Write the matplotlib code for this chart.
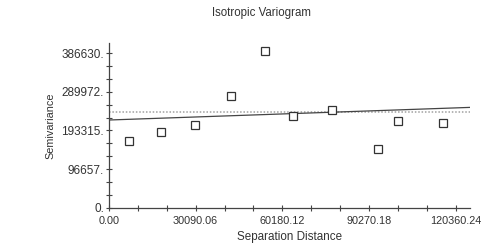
import numpy as np
import matplotlib.pyplot as plt
from matplotlib.ticker import FixedLocator

plt.rcParams['font.family'] = ['Liberation Sans', 'DejaVu Sans']

# experimental variogram points
lag_dist = [7050, 18050, 29850, 42340, 54140, 63860, 77500, 93250, 100200, 116000]
semivar = [167870, 189570, 207000, 279370, 391000, 229480, 244450, 147910, 217760, 212020]

# fitted model (start / end) and sill
model_x = [0, 125300]
model_y = [219500, 251000]
sill = 240000

x_ticks = [0, 30090.06, 60180.12, 90270.18, 120360.24]
x_labels = ['0.00', '30090.06', '60180.12', '90270.18', '120360.24']
y_ticks = [0, 96657.5, 193315, 289972.5, 386630]
y_labels = ['0.', '96657.', '193315.', '289972.', '386630.']

fig = plt.figure(figsize=(5.02, 2.49), dpi=100)
ax = fig.add_axes([0.217, 0.165, 0.719, 0.662])

ax.axhline(sill, color='#a0a0a0', linestyle=(0, (1, 1.2)), linewidth=1.1)
ax.plot(model_x, model_y, color='#444444', linewidth=0.9)
ax.plot(lag_dist, semivar, linestyle='none', marker='s', markersize=6,
        markerfacecolor='white', markeredgecolor='#333333', markeredgewidth=0.9)

ax.set_xlim(0, 125300)
ax.set_ylim(0, 411600)
ax.set_xticks(x_ticks)
ax.set_xticklabels(x_labels)
ax.set_yticks(y_ticks)
ax.set_yticklabels(y_labels)
ax.xaxis.set_minor_locator(FixedLocator(np.arange(0, 125300, 10030.02)))
ax.yaxis.set_minor_locator(FixedLocator(np.arange(0, 411600, 32219.17)))
ax.tick_params(which='both', direction='inout', length=5, width=0.8,
               color='#444444', labelcolor='#333333')
ax.tick_params(axis='x', labelsize=7.8, pad=3.5)
ax.tick_params(axis='y', labelsize=8.5, pad=1)

for s in ['top', 'right']:
    ax.spines[s].set_visible(False)
for s in ['left', 'bottom']:
    ax.spines[s].set_color('#444444')
    ax.spines[s].set_linewidth(0.9)

ax.set_xlabel('Separation Distance', fontsize=8.4, color='#333333', labelpad=3.5)
ax.set_ylabel('Semivariance', fontsize=7.8, color='#333333', labelpad=4)
fig.text(0.52, 0.948, 'Isotropic Variogram', fontsize=8.3, color='#333333',
         ha='center', va='center')

fig.savefig('out.png', dpi=100)
